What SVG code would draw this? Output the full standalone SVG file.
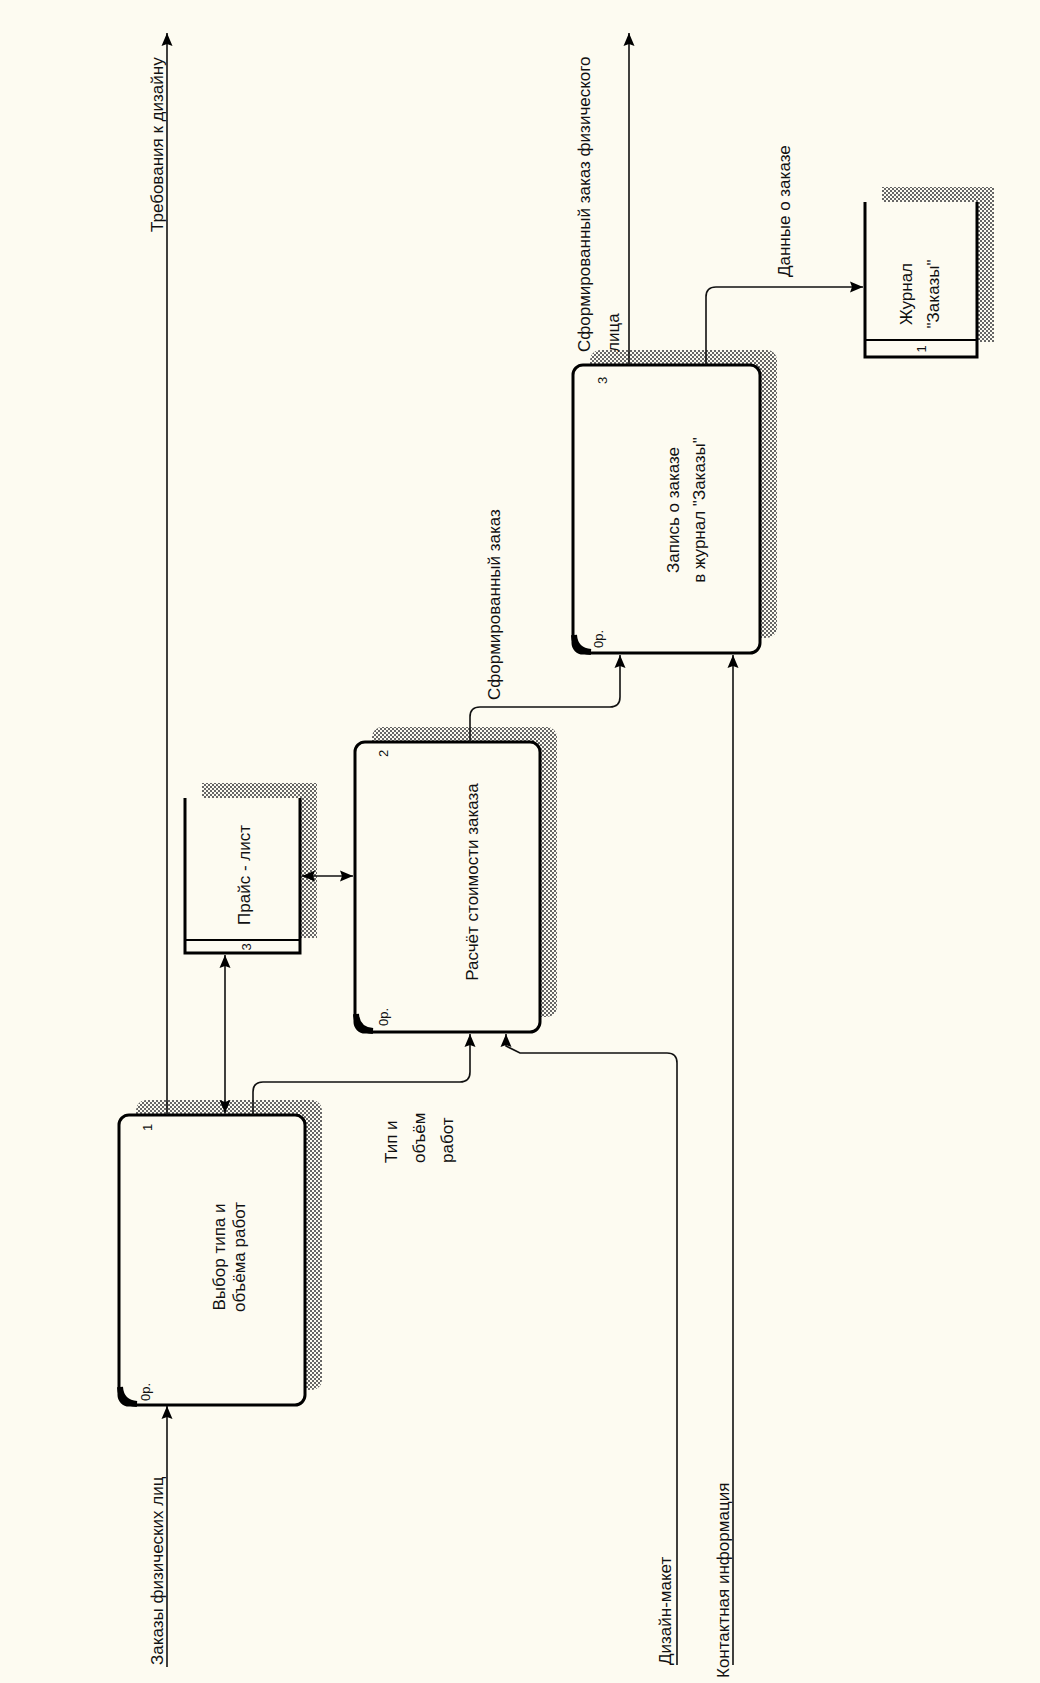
<svg xmlns="http://www.w3.org/2000/svg" width="1040" height="1683" viewBox="0 0 1040 1683">
<style>
.t{font-family:"Liberation Sans",Arial,sans-serif;font-size:17px;fill:#111}
.s{font-family:"Liberation Sans",Arial,sans-serif;font-size:13px;fill:#111}
.box{fill:#fdfbf1;stroke:#000;stroke-width:3}
.shadow{fill:url(#hatch);stroke:none}
.store{fill:none;stroke:#000;stroke-width:3}
.strip{fill:none;stroke:#000;stroke-width:2}
.corner{fill:none;stroke:#000;stroke-width:6}
.c{fill:none;stroke:#111;stroke-width:1.6}
.a{marker-end:url(#arr)}
.b{marker-start:url(#arr);marker-end:url(#arr)}
</style>
<defs>
<pattern id="hatch" width="4" height="4" patternUnits="userSpaceOnUse">
<rect width="4" height="4" fill="#fdfbf1"/>
<rect x="0" y="0" width="2" height="2" fill="#666"/>
<rect x="2" y="2" width="2" height="2" fill="#666"/>
</pattern>
<marker id="arr" viewBox="0 0 13 12" refX="13" refY="6" markerWidth="13" markerHeight="12" markerUnits="userSpaceOnUse" orient="auto-start-reverse">
<path d="M0,0.5 L13,6 L0,11.5 L2,6 z" fill="#000"/>
</marker>
</defs>
<rect width="1040" height="1683" fill="#fdfbf1"/>

<g id="process1">
<rect class="shadow" x="136" y="1100" width="186" height="290" rx="10"/>
<rect class="box" x="119" y="1115" width="186" height="290" rx="10"/>
<path class="corner" d="M120,1387 Q121,1403 137,1404"/>
<text class="s" transform="translate(152,1131) rotate(-90)">1</text>
<text class="s" transform="translate(150,1401) rotate(-90)">0р.</text>
<text class="t" text-anchor="middle" transform="translate(225,1257) rotate(-90)">Выбор типа и</text>
<text class="t" text-anchor="middle" transform="translate(245,1257) rotate(-90)">объёма работ</text>
</g>

<g id="process2">
<rect class="shadow" x="372" y="727" width="185" height="290" rx="10"/>
<rect class="box" x="355" y="742" width="185" height="290" rx="10"/>
<path class="corner" d="M356,1014 Q357,1030 373,1031"/>
<text class="s" transform="translate(388,757) rotate(-90)">2</text>
<text class="s" transform="translate(388,1026) rotate(-90)">0р.</text>
<text class="t" text-anchor="middle" transform="translate(478,882) rotate(-90)">Расчёт стоимости заказа</text>
</g>

<g id="process3">
<rect class="shadow" x="590" y="350" width="187" height="288" rx="10"/>
<rect class="box" x="573" y="365" width="187" height="288" rx="10"/>
<path class="corner" d="M574,635 Q575,651 591,652"/>
<text class="s" transform="translate(607,384) rotate(-90)">3</text>
<text class="s" transform="translate(603,648) rotate(-90)">0р.</text>
<text class="t" text-anchor="middle" transform="translate(679,510) rotate(-90)">Запись о заказе</text>
<text class="t" text-anchor="middle" transform="translate(705,510) rotate(-90)">в журнал "Заказы"</text>
</g>

<g id="store3">
<rect class="shadow" x="202" y="783" width="115" height="155"/>
<rect x="185" y="798" width="115" height="155" fill="#fdfbf1"/>
<path class="store" d="M185,798 V953 H300 V798"/>
<path class="strip" d="M185,940 H300"/>
<text class="s" text-anchor="middle" transform="translate(251,947) rotate(-90)">3</text>
<text class="t" text-anchor="middle" transform="translate(250,875) rotate(-90)">Прайс - лист</text>
</g>

<g id="store1">
<rect class="shadow" x="882" y="187" width="112" height="155"/>
<rect x="865" y="202" width="112" height="155" fill="#fdfbf1"/>
<path class="store" d="M865,202 V357 H977 V202"/>
<path class="strip" d="M865,340 H977"/>
<text class="s" text-anchor="middle" transform="translate(926,349) rotate(-90)">1</text>
<text class="t" text-anchor="middle" transform="translate(912,294) rotate(-90)">Журнал</text>
<text class="t" text-anchor="middle" transform="translate(939,294) rotate(-90)">"Заказы"</text>
</g>

<g id="connectors">
<path class="c a" d="M167,1667 V1406"/>
<path class="c a" d="M167,1115 V33"/>
<path class="c b" d="M225,1113 V955"/>
<path class="c a" d="M253,1115 V1092 Q253,1082 263,1082 H460 Q470,1082 470,1072 V1034"/>
<path class="c a" d="M677,1665 V1063 Q677,1053 667,1053 H520 L506,1046 V1034"/>
<path class="c b" d="M302,876 H353"/>
<path class="c a" d="M470,742 V717 Q470,707 480,707 H610 Q620,707 620,697 V655"/>
<path class="c a" d="M733,1665 V655"/>
<path class="c a" d="M629,365 V33"/>
<path class="c a" d="M706,365 V297 Q706,287 716,287 H863"/>
<text class="t" transform="translate(163,232) rotate(-90)">Требования к дизайну</text>
<text class="t" transform="translate(163,1665) rotate(-90)">Заказы физических лиц</text>
<text class="t" transform="translate(397,1163) rotate(-90)">Тип и</text>
<text class="t" transform="translate(425,1163) rotate(-90)">объём</text>
<text class="t" transform="translate(453,1163) rotate(-90)">работ</text>
<text class="t" transform="translate(500,700) rotate(-90)">Сформированный заказ</text>
<text class="t" transform="translate(590,352) rotate(-90)">Сформированный заказ физического</text>
<text class="t" transform="translate(619,352) rotate(-90)">лица</text>
<text class="t" transform="translate(790,277) rotate(-90)">Данные о заказе</text>
<text class="t" transform="translate(671,1665) rotate(-90)">Дизайн-макет</text>
<text class="t" transform="translate(729,1678) rotate(-90)">Контактная информация</text>
</g>
</svg>
